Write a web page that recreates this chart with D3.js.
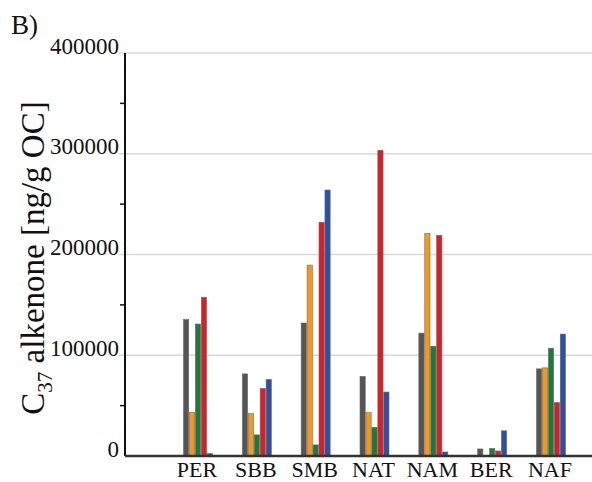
<html>
  <head>
    <script src="https://cdnjs.cloudflare.com/ajax/libs/d3/7.8.5/d3.min.js"></script>
    <style>
      body { margin: 0; background: #fff; }
    </style>
  </head>
  <body>
    <svg id="chart" width="592" height="482"></svg>
    <script>
      // sites along the x axis
      var sites = ["PER", "SBB", "SMB", "NAT", "NAM", "BER", "NAF"];
      // five series per site, in drawing order
      var seriesNames = ["s1", "s2", "s3", "s4", "s5"];
      var seriesColors = ["#555555", "#f5961f", "#1c7b3b", "#d81f26", "#2f4ea6"];

      var s1 = [135500, 81500, 132000, 79000, 122000, 7000, 86500];
      var s2 = [43500, 42000, 189500, 43000, 221000, 0, 87500];
      var s3 = [131000, 21000, 11000, 28500, 109000, 7500, 107000];
      var s4 = [157500, 67000, 232000, 303500, 219000, 5000, 53000];
      var s5 = [2500, 76000, 264000, 63500, 4000, 25000, 121000];

      var yTicks = [0, 100000, 200000, 300000, 400000];
      var yMinor = [50000, 150000, 250000, 350000];

      var allSeries = [s1, s2, s3, s4, s5];
      var serif = "'Liberation Serif', 'DejaVu Serif', serif";

      var svg = d3.select("#chart");
      var plotLeft = 125, plotRight = 592, plotTop = 53, plotBottom = 456;

      var y = d3.scaleLinear().domain([0, 400000]).range([plotBottom, plotTop]);
      var x = d3.scalePoint().domain(sites).range([198, 551]);
      var inner = d3.scaleBand().domain(seriesNames).range([-14.5, 14.5]).paddingInner(0.12);

      // grid lines
      svg.append("g")
        .selectAll("line")
        .data(yTicks.slice(1))
        .enter()
        .append("line")
        .attr("x1", plotLeft - 6)
        .attr("x2", plotRight)
        .attr("y1", d => y(d))
        .attr("y2", d => y(d))
        .style("stroke", "#d8d8d8")
        .style("stroke-width", 1.5);

      // bars
      var groups = svg.append("g")
        .selectAll("g")
        .data(sites)
        .enter()
        .append("g")
        .attr("transform", d => "translate(" + x(d) + ",0)");

      groups.selectAll("rect")
        .data((d, i) => allSeries.map((s, k) => ({ name: seriesNames[k], value: s[i], color: seriesColors[k] })))
        .enter()
        .filter(d => d.value > 0)
        .append("rect")
        .attr("x", d => inner(d.name))
        .attr("width", inner.bandwidth())
        .attr("y", d => y(d.value))
        .attr("height", d => plotBottom - y(d.value))
        .style("fill", d => d.color)
        .style("stroke", "#6a6a6a")
        .style("stroke-width", 0.6);

      // y axis
      svg.append("line")
        .attr("x1", plotLeft).attr("x2", plotLeft)
        .attr("y1", plotTop).attr("y2", plotBottom)
        .style("stroke", "#111").style("stroke-width", 2);

      svg.append("g")
        .selectAll("line")
        .data(yMinor)
        .enter()
        .append("line")
        .attr("x1", plotLeft - 5).attr("x2", plotLeft)
        .attr("y1", d => y(d)).attr("y2", d => y(d))
        .style("stroke", "#111").style("stroke-width", 1.5);

      svg.append("g")
        .selectAll("text")
        .data(yTicks)
        .enter()
        .append("text")
        .attr("x", plotLeft - 6)
        .attr("y", d => y(d) + 0.5)
        .attr("text-anchor", "end")
        .attr("font-family", serif)
        .attr("font-size", 23)
        .attr("fill", "#111")
        .text(d => d);

      // x axis
      svg.append("line")
        .attr("x1", plotLeft).attr("x2", plotRight)
        .attr("y1", plotBottom).attr("y2", plotBottom)
        .style("stroke", "#333").style("stroke-width", 2.5);

      svg.append("g")
        .selectAll("text")
        .data(sites)
        .enter()
        .append("text")
        .attr("x", d => x(d) - 1)
        .attr("y", 477)
        .attr("text-anchor", "middle")
        .attr("font-family", serif)
        .attr("font-size", 22)
        .attr("fill", "#111")
        .text(d => d);

      // y axis title
      var title = svg.append("text")
        .attr("transform", "translate(44,258) rotate(-90)")
        .attr("text-anchor", "middle")
        .attr("font-family", serif)
        .attr("font-size", 33)
        .attr("fill", "#111");
      title.append("tspan").text("C");
      title.append("tspan").attr("dy", 8).attr("font-size", 21).text("37");
      title.append("tspan").attr("dy", -8).text(" alkenone [ng/g OC]");

      // panel letter
      svg.append("text")
        .attr("x", 11)
        .attr("y", 34)
        .attr("font-family", serif)
        .attr("font-size", 27)
        .attr("fill", "#111")
        .text("B)");
    </script>
  </body>
</html>
